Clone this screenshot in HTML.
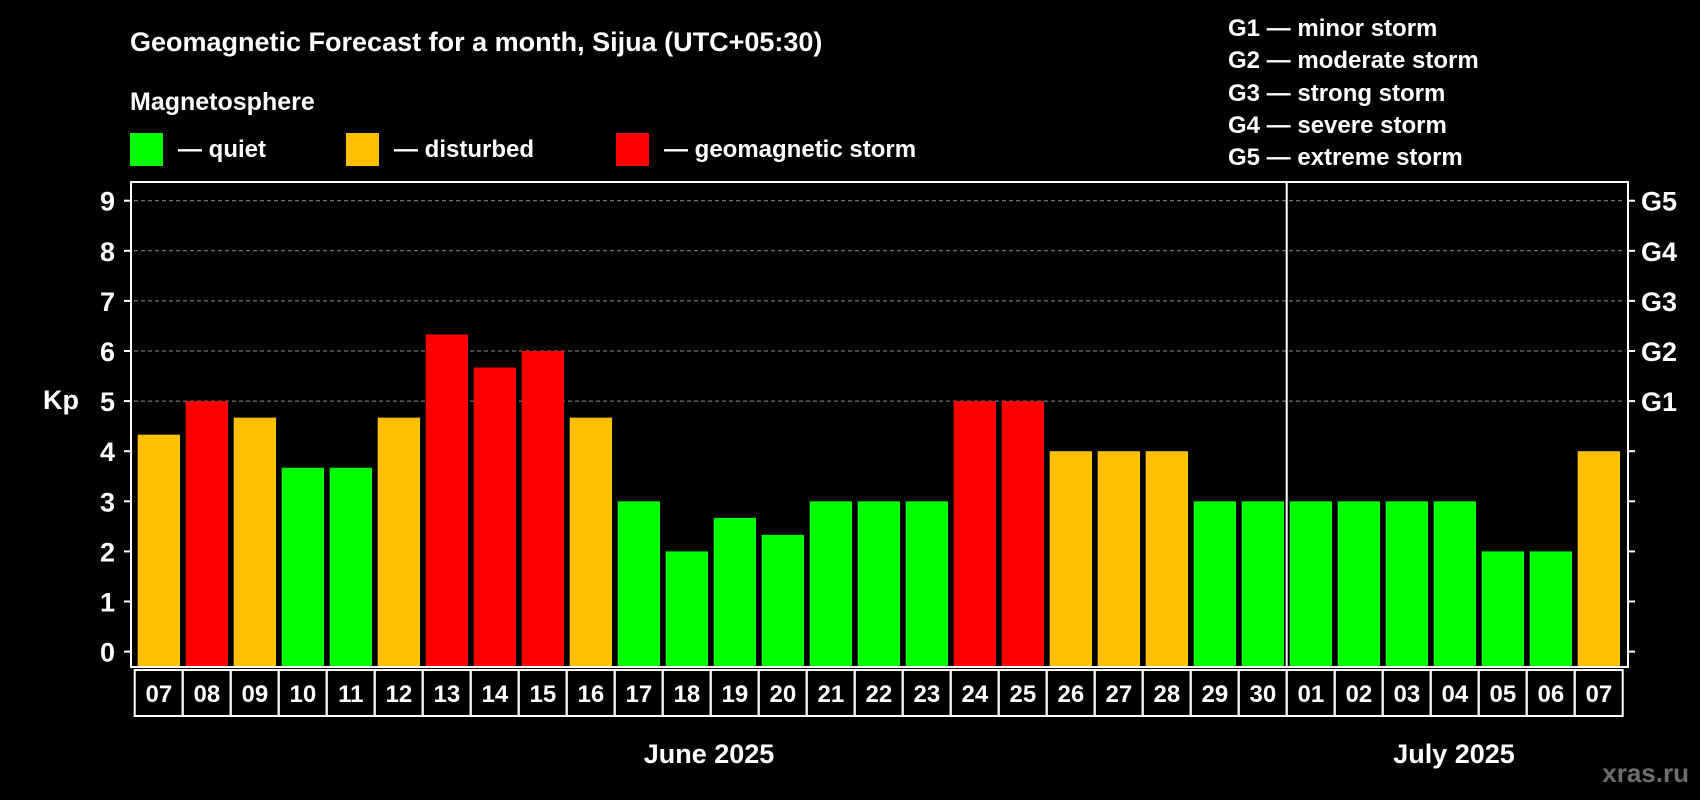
<!DOCTYPE html>
<html><head><meta charset="utf-8"><style>
html,body{margin:0;padding:0;background:#000;}
svg{display:block;font-family:"Liberation Sans",Arial,sans-serif;font-weight:bold;}
</style></head><body>
<svg id="chart" width="1700" height="800" viewBox="0 0 1700 800">
<rect width="1700" height="800" fill="#000"/>
<text x="130" y="51" font-size="27" fill="#fff">Geomagnetic Forecast for a month, Sijua (UTC+05:30)</text>
<text x="130" y="110" font-size="25" fill="#fff">Magnetosphere</text>
<g><rect x="130" y="133" width="33" height="33" fill="#00ff00"/><text x="178" y="157" font-size="24" fill="#fff">— quiet</text></g>
<g><rect x="346" y="133" width="33" height="33" fill="#ffc000"/><text x="394" y="157" font-size="24" fill="#fff">— disturbed</text></g>
<g><rect x="616" y="133" width="33" height="33" fill="#ff0000"/><text x="664" y="157" font-size="24" fill="#fff">— geomagnetic storm</text></g>
<g font-size="24" fill="#fff">
<text x="1228" y="36">G1 — minor storm</text>
<text x="1228" y="68">G2 — moderate storm</text>
<text x="1228" y="101">G3 — strong storm</text>
<text x="1228" y="133">G4 — severe storm</text>
<text x="1228" y="165">G5 — extreme storm</text>
</g>
<text x="43" y="409" font-size="27" fill="#fff">Kp</text>
<g id="plot"></g>
<text x="709" y="763" font-size="27" fill="#fff" text-anchor="middle">June 2025</text>
<text x="1454" y="763" font-size="27" fill="#fff" text-anchor="middle">July 2025</text>
<text x="1689" y="782" font-size="26" fill="#6e6e6e" text-anchor="end">xras.ru</text>
</svg>
<script>
const days = ["07","08","09","10","11","12","13","14","15","16","17","18","19","20","21","22","23","24","25","26","27","28","29","30","01","02","03","04","05","06","07"];
const kpValues = [4.33,5,4.67,3.67,3.67,4.67,6.33,5.67,6,4.67,3,2,2.67,2.33,3,3,3,5,5,4,4,4,3,3,3,3,3,3,2,2,4];
const yTicks = [0,1,2,3,4,5,6,7,8,9];
const gLabels = ["G1","G2","G3","G4","G5"];
const gLevels = [5,6,7,8,9];

const NS="http://www.w3.org/2000/svg";
const L=131, R=1628, T=182, B=667, Y0=651.6, YU=50.1, X0=137.7, PITCH=48, BW=42.3;
const y=v=>Y0-v*YU;
const x=i=>X0+i*PITCH;
const g=document.getElementById('plot');
function mk(tag,attrs){const e=document.createElementNS(NS,tag);for(const k in attrs)e.setAttribute(k,attrs[k]);g.appendChild(e);return e;}
function color(v){return v>=5?"#ff0000":(v>=4?"#ffc000":"#00ff00");}

gLevels.forEach((lv,i)=>{
  const ln=mk('line',{x1:L+3,x2:R-3,y1:y(lv),y2:y(lv),stroke:'#8c8c8c','stroke-width':1,'stroke-dasharray':'4,3'});
  
  
});
kpValues.forEach((v,i)=>{
  const r=mk('rect',{x:x(i),y:y(v),width:BW,height:B-y(v),fill:color(v)});
  
  
});
const fr=mk('rect',{x:L,y:T,width:R-L,height:B-T,fill:'none',stroke:'#fff','stroke-width':2});


const sep=mk('line',{x1:x(24)-3,x2:x(24)-3,y1:T,y2:B,stroke:'#fff','stroke-width':2});


yTicks.forEach(t=>{
  const tk=mk('line',{x1:L-7,x2:L,y1:y(t),y2:y(t),stroke:'#fff','stroke-width':2});
  
  
  const tr=mk('line',{x1:R,x2:R+7,y1:y(t),y2:y(t),stroke:'#fff','stroke-width':2});
  
  
  const tx=mk('text',{x:115,y:y(t)+10,'font-size':27,fill:'#fff','text-anchor':'end'});
  tx.textContent=t;
  
  
});
gLabels.forEach((gl,i)=>{
  const tx=mk('text',{x:1641,y:y(gLevels[i])+10,'font-size':27,fill:'#fff'});
  tx.textContent=gl;
  
  
});
days.forEach((d,i)=>{
  const bx=mk('rect',{x:x(i)-3,y:670,width:PITCH,height:46,fill:'none',stroke:'#fff','stroke-width':2});
  
  
  const tx=mk('text',{x:x(i)+BW/2,y:702,'font-size':24,fill:'#fff','text-anchor':'middle'});
  tx.textContent=d;
  
  
});
</script>
</body></html>
